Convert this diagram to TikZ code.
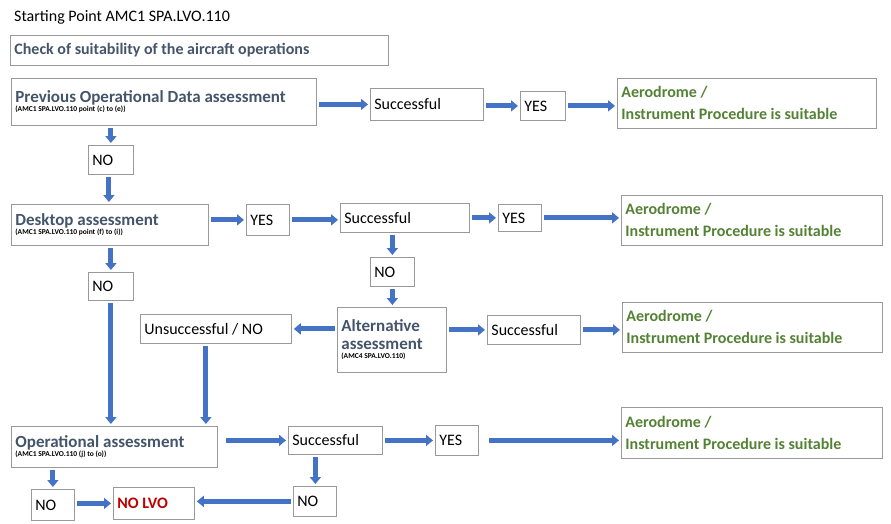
\documentclass[tikz,border=0pt]{standalone}
\usepackage{fontspec}
\setmainfont{Carlito}
\usetikzlibrary{arrows.meta, positioning}
\definecolor{flowblue}{HTML}{4472C4}
\definecolor{headgray}{HTML}{44546A}
\definecolor{okgreen}{HTML}{548235}
\definecolor{lvored}{HTML}{C00000}
\newcommand{\headtxt}[2]{{\color{headgray}\bfseries\fontsize{17}{18}\selectfont #1\par}%
  {\bfseries\fontsize{7.5}{9}\selectfont #2\par}}
\tikzset{
x=1pt, y=-1pt, % pixel grid of the slide
every node/.style={inner sep=4pt, font=\fontsize{16}{18}\selectfont},
box/.style 2 args={draw=gray!80, line width=0.8pt, anchor=north west,
  text width=#1-8pt, minimum height=#2, align=left,
  execute at begin node={\spaceskip=0pt\xspaceskip=0pt}},
flow/.style={draw=flowblue, line width=5pt, shorten <=2pt, shorten >=2pt,
  -{Triangle[width=11pt,length=7pt]}},
good/.style={font=\bfseries\fontsize{16}{22}\selectfont, text=okgreen},
}
\begin{document}
\begin{tikzpicture}
  \useasboundingbox (0,0) rectangle (891,523);
  \node[anchor=west, inner sep=0pt] (title) at (14,17) {Starting Point AMC1 SPA.LVO.110};
  \node[box={378pt}{30pt}, font=\bfseries\fontsize{16}{18}\selectfont, text=headgray] (check) at (10,35)
    {Check of suitability of the aircraft operations};

  % first level
  \node[box={305pt}{47pt}] (prev) at (11,78)
    {\headtxt{Previous Operational Data assessment}{(AMC1 SPA.LVO.110 point (c) to (e))}};
  \node[box={113pt}{32pt}] (succ1) at (370,88) {Successful};
  \node[box={45pt}{29pt}] (yes1) at (520,91) {YES};
  \node[box={259pt}{50pt}, good] (res1) at (617,78) {Aerodrome /\\Instrument Procedure is suitable};
  \node[box={45pt}{29pt}] (no1) at (88,145) {NO};

  % second level
  \node[box={197pt}{41pt}] (desk) at (11,204)
    {\headtxt{Desktop assessment}{(AMC1 SPA.LVO.110 point (f) to (i))}};
  \node[box={43pt}{31pt}] (yes2) at (246,204) {YES};
  \node[box={129pt}{29pt}] (succ2) at (340,203) {Successful};
  \node[box={43pt}{27pt}] (yes3) at (498,204) {YES};
  \node[box={261pt}{50pt}, good] (res2) at (621,195) {Aerodrome /\\Instrument Procedure is suitable};
  \node[box={44pt}{29pt}] (no2) at (370,257) {NO};
  \node[box={45pt}{28pt}] (no3) at (88,272) {NO};

  % alternative
  \node[box={109pt}{65pt}] (alt) at (337,307)
    {\headtxt{Alternative\\assessment}{(AMC4 SPA.LVO.110)}};
  \node[box={151pt}{29pt}] (unsucc) at (140,314) {Unsuccessful / NO};
  \node[box={93pt}{29pt}] (succ3) at (487,315) {Successful};
  \node[box={260pt}{50pt}, good] (res3) at (622,302) {Aerodrome /\\Instrument Procedure is suitable};

  % operational
  \node[box={206pt}{41pt}] (op) at (11,426)
    {\headtxt{Operational assessment}{(AMC1 SPA.LVO.110 (j) to (o))}};
  \node[box={94pt}{28pt}] (succ4) at (288,426) {Successful};
  \node[box={43pt}{30pt}] (yes4) at (435,425) {YES};
  \node[box={261pt}{51pt}, good] (res4) at (621,407) {Aerodrome /\\Instrument Procedure is suitable};
  \node[box={43pt}{31pt}] (no4) at (31,489) {NO};
  \node[box={81pt}{32pt}, font=\bfseries\fontsize{16}{18}\selectfont, text=lvored] (nolvo) at (113,487) {NO LVO};
  \node[box={43pt}{30pt}] (no5) at (293,486) {NO};

  \draw[flow] (prev.east |- succ1.west) -- (succ1.west);
  \draw[flow] (succ1.east |- yes1.west) -- (yes1.west);
  \draw[flow] (yes1.east) -- (yes1.east -| res1.west);
  \draw[flow] (no1.north |- prev.south) -- (no1.north);
  \draw[flow] ([xshift=-2pt]no1.south) -- ([xshift=-2pt]no1.south |- desk.north);
  \draw[flow] (desk.east |- yes2.west) -- (yes2.west);
  \draw[flow] (yes2.east) -- (yes2.east -| succ2.west);
  \draw[flow] (succ2.east |- yes3.west) -- (yes3.west);
  \draw[flow] (yes3.east) -- (yes3.east -| res2.west);
  \draw[flow] (no2.north |- succ2.south) -- (no2.north);
  \draw[flow] (no2.south) -- (no2.south |- alt.north);
  \draw[flow] (alt.west |- unsucc.east) -- (unsucc.east);
  \draw[flow] (alt.east |- succ3.west) -- (succ3.west);
  \draw[flow] (succ3.east) -- (succ3.east -| res3.west);
  \draw[flow] (no3.north |- desk.south) -- (no3.north);
  \draw[flow] (no3.south) -- (no3.south |- op.north);
  \draw[flow] ([xshift=-10pt]unsucc.south) -- ([xshift=-10pt]unsucc.south |- op.north);
  \draw[flow] ([xshift=6pt]op.east |- succ4.west) -- (succ4.west);
  \draw[flow] (succ4.east |- yes4.west) -- (yes4.west);
  \draw[flow] ([xshift=8pt]yes4.east) -- (yes4.east -| res4.west);
  \draw[flow] (no4.north |- op.south) -- (no4.north);
  \draw[flow] ([xshift=-20pt]succ4.south) -- ([xshift=-20pt]succ4.south |- no5.north);
  \draw[flow] (no4.east |- nolvo.west) -- (nolvo.west);
  \draw[flow] (no5.west) -- (no5.west -| nolvo.east);
\end{tikzpicture}
\end{document}
